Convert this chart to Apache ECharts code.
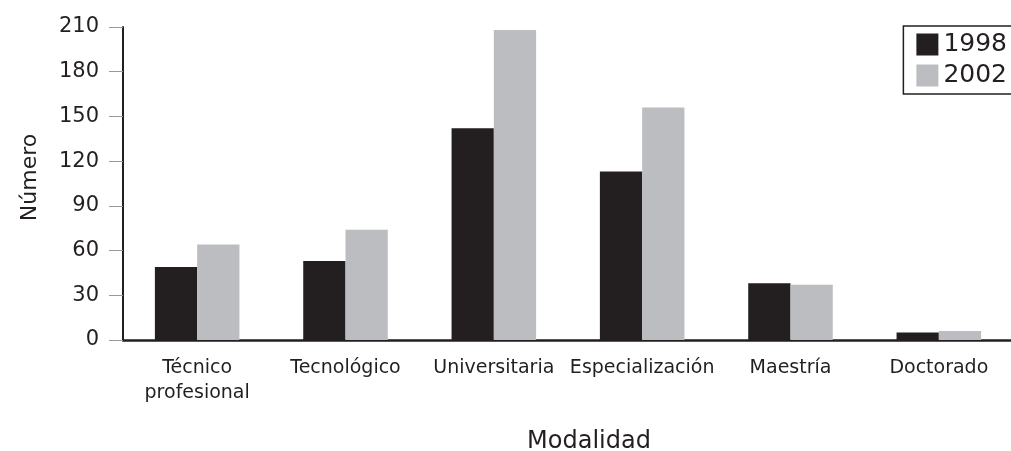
<!DOCTYPE html>
<html>
<head>
<meta charset="utf-8">
<script src="https://cdn.jsdelivr.net/npm/echarts@6/dist/echarts.min.js"></script>
<style>
  html, body { margin: 0; padding: 0; background: #fff; }
  #chart { width: 1011px; height: 451px; }
</style>
</head>
<body>
<div id="chart"></div>
<script>
const categories = ['Técnico\nprofesional', 'Tecnológico', 'Universitaria', 'Especialización', 'Maestría', 'Doctorado']
const values1998 = [49, 53, 142, 113, 38, 5]
const values2002 = [64, 74, 208, 156, 37, 6]
const yTicks = [0, 30, 60, 90, 120, 150, 180, 210]

const font = '"DejaVu Sans", sans-serif'

let chart = echarts.init(document.getElementById('chart'))
let option = {
    animation: false,
    textStyle: { fontFamily: font },
    legend: {
        data: ['1998', '2002'],
        orient: 'vertical',
        right: -2,
        top: 26,
        itemWidth: 22,
        itemHeight: 22,
        itemGap: 6,
        padding: [6, 6, 6, 13],
        borderColor: '#231f20',
        borderWidth: 1.5,
        borderRadius: 0,
        icon: 'rect',
        textStyle: { fontSize: 25, color: '#231f20', fontFamily: font },
    },
    grid: {
        top: 27,
        left: 123,
        right: -2,
        bottom: 111,
        outerBoundsMode: 'none',
        containLabel: false,
    },
    xAxis: {
        type: 'category',
        data: categories,
        name: 'Modalidad',
        nameLocation: 'middle',
        nameGap: 90,
        nameTextStyle: { fontSize: 24, color: '#231f20', padding: [0, 0, 0, 42] },
        axisLine: { lineStyle: { color: '#231f20', width: 2.5 } },
        axisTick: { length: 12, lineStyle: { color: '#999' } },
        axisLabel: {
            fontSize: 19,
            color: '#231f20',
            margin: 16,
            lineHeight: 25,
            interval: 0,
        },
    },
    yAxis: {
        type: 'value',
        min: 0,
        max: 210,
        interval: 30,
        name: 'Número',
        nameLocation: 'middle',
        nameGap: 82,
        nameTextStyle: { fontSize: 22, color: '#231f20', padding: [0, 0, 0, 12] },
        axisLine: { show: true, lineStyle: { color: '#231f20', width: 2 } },
        axisTick: { show: true, inside: false, length: 14, lineStyle: { color: '#999' } },
        axisLabel: {
            fontSize: 21,
            color: '#231f20',
            margin: 24,
            formatter: v => yTicks.includes(v) ? String(v) : '',
        },
        splitLine: { show: false },
    },
    series: [
        {
            name: '1998',
            type: 'bar',
            data: values1998,
            barGap: '0%',
            barCategoryGap: '43%',
            itemStyle: { color: '#231f20' },
        },
        {
            name: '2002',
            type: 'bar',
            data: values2002,
            itemStyle: { color: '#bcbdc0' },
        },
    ],
}

chart.setOption(option)
window.addEventListener('resize', () => {
    chart.resize()
})
</script>
</body>
</html>
